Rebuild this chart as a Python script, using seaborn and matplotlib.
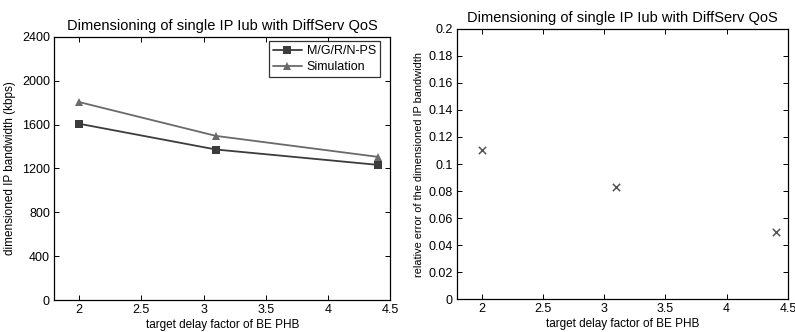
import matplotlib
matplotlib.use("Agg")
import matplotlib.pyplot as plt
import seaborn as sns
import pandas as pd

sns.set_theme(style="white")
plt.rcParams['font.family'] = ['Liberation Sans', 'DejaVu Sans']
plt.rcParams['text.color'] = 'black'
plt.rcParams['axes.labelcolor'] = 'black'

delay = [2.0, 3.1, 4.4]
mgrnps = [1608, 1373, 1233]
simulation = [1806, 1497, 1306]
rel_error = [0.110, 0.083, 0.050]

title = "Dimensioning of single IP Iub with DiffServ QoS"
xlabel = "target delay factor of BE PHB"

fig = plt.figure(figsize=(7.95, 3.32), dpi=100)
ax1 = fig.add_axes([0.068, 0.096, 0.423, 0.793])
ax2 = fig.add_axes([0.575, 0.099, 0.416, 0.814])

df = pd.DataFrame({"x": delay * 2,
                   "y": mgrnps + simulation,
                   "series": ["M/G/R/N-PS"] * 3 + ["Simulation"] * 3})
sns.lineplot(data=df, x="x", y="y", hue="series", style="series",
             palette={"M/G/R/N-PS": "#3c3c3c", "Simulation": "#6a6a6a"},
             markers={"M/G/R/N-PS": "s", "Simulation": "^"},
             dashes=False, markersize=5.5, linewidth=1.3, ax=ax1,
             markeredgewidth=0)
ax1.set_xlim(1.8, 4.5)
ax1.set_ylim(0, 2400)
ax1.set_yticks([0, 400, 800, 1200, 1600, 2000, 2400])
ax1.set_xticks([2, 2.5, 3, 3.5, 4, 4.5])
ax1.set_xticklabels(["2", "2.5", "3", "3.5", "4", "4.5"])
ax1.set_xlabel(xlabel, fontsize=8.5, labelpad=2)
ax1.set_ylabel("dimensioned IP bandwidth (kbps)", fontsize=8.5, labelpad=4)
ax1.set_title(title, fontsize=10.5, pad=5, color="black")
leg = ax1.legend(loc="upper right", bbox_to_anchor=(0.97, 0.985), fontsize=9,
                 frameon=True, fancybox=False, edgecolor="black",
                 borderaxespad=0.0, handlelength=2.3, borderpad=0.35,
                 labelspacing=0.3, handletextpad=0.4)
leg.get_frame().set_linewidth(0.9)
for t in leg.get_texts():
    t.set_color("black")

df2 = pd.DataFrame({"x": delay, "y": rel_error})
sns.scatterplot(data=df2, x="x", y="y", marker="x", color="#555555",
                s=28, linewidth=1.1, ax=ax2)
ax2.set_xlim(1.8, 4.5)
ax2.set_ylim(0, 0.2)
ax2.set_yticks([0, 0.02, 0.04, 0.06, 0.08, 0.1, 0.12, 0.14, 0.16, 0.18, 0.2])
ax2.set_yticklabels(["0", "0.02", "0.04", "0.06", "0.08", "0.1", "0.12",
                     "0.14", "0.16", "0.18", "0.2"])
ax2.set_xticks([2, 2.5, 3, 3.5, 4, 4.5])
ax2.set_xticklabels(["2", "2.5", "3", "3.5", "4", "4.5"])
ax2.set_xlabel(xlabel, fontsize=8.5, labelpad=2)
ax2.set_ylabel("relative error of the dimensioned IP bandwidth", fontsize=7.9, labelpad=3)
ax2.set_title(title, fontsize=10.5, pad=5, color="black")

for ax in (ax1, ax2):
    for s in ax.spines.values():
        s.set_color("black")
        s.set_linewidth(0.9)
        s.set_visible(True)
    ax.tick_params(direction="in", length=3.5, width=0.7, top=True, right=True,
                   labelsize=9, colors="black", pad=3,
                   bottom=True, left=True)
    ax.grid(False)

fig.savefig("out.png", dpi=100)
